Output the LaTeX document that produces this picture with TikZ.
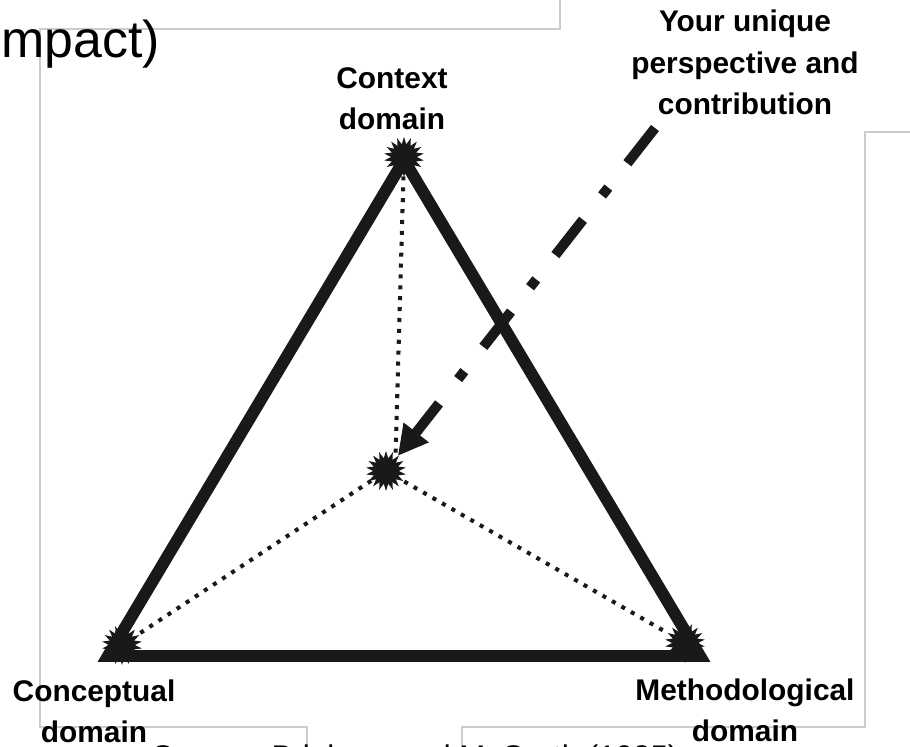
\documentclass[tikz,border=0pt]{standalone}
\usepackage{fontspec}
\setmainfont{Liberation Sans}
\usetikzlibrary{shapes.geometric,arrows.meta}
\begin{document}
\begin{tikzpicture}[x=0.02cm,y=-0.02cm]
\tikzstyle{every node}+=[inner sep=0pt]
\tikzstyle{frameline}=[black!20, line width=0.6pt]
\tikzstyle{edgeline}=[black!90, line width=6.8pt, line join=miter]
\tikzstyle{dotline}=[black!90, line width=2.3pt, dash pattern=on 2.3pt off 3.9pt]
\tikzstyle{burst}=[star, star points=18, star point ratio=1.55, fill=black!90, minimum size=0.8cm]
\tikzstyle{domtext}=[font=\fontsize{17}{23.5}\selectfont\bfseries, align=center, anchor=north]
\tikzstyle{pointer}=[black!90, line width=5.7pt, dash pattern=on 25.5pt off 17.6pt on 5.7pt off 17.6pt, -{Triangle[length=17pt,width=17pt]}]
\path[use as bounding box, clip] (0,0) rectangle (910,747);
\draw[frameline] (560,0) -- (560,29) -- (40,29) -- (40,727) -- (307,727) -- (307,747);
\draw[frameline] (462,747) -- (462,727) -- (865,727) -- (865,132) -- (910,132);
\node[anchor=base west, font=\fontsize{29.5}{34}\selectfont] (impact) at (1,57) {mpact)};
\node[anchor=base west, font=\fontsize{17.8}{21}\selectfont] (source) at (152,767) {Source: Brinberg and McGrath (1985)};
\coordinate (ctxc) at (404,160);
\coordinate (conc) at (108,656);
\coordinate (metc) at (700,656);
\draw[edgeline] (ctxc) -- (conc) -- (metc) -- cycle;
\node[burst] (ctx) at (404,157) {};
\node[burst] (con) at (122,645) {};
\node[burst] (met) at (685,643) {};
\node[burst] (you) at (386,471) {};
\draw[dotline] (ctx) -- (you.55);
\draw[dotline] (you) -- (con);
\draw[dotline] (you) -- (met);
\coordinate (from) at (655,128);
\draw[pointer] (from) -- (you);
\node[domtext] (ctxlabel) at (392,67) {Context\\domain};
\node[domtext] (conlabel) at (94,679) {Conceptual\\domain};
\node[domtext] (metlabel) at (745,678) {Methodological\\domain};
\node[domtext] (yourlabel) at (745,10) {Your unique\\perspective and\\contribution};
\end{tikzpicture}
\end{document}
